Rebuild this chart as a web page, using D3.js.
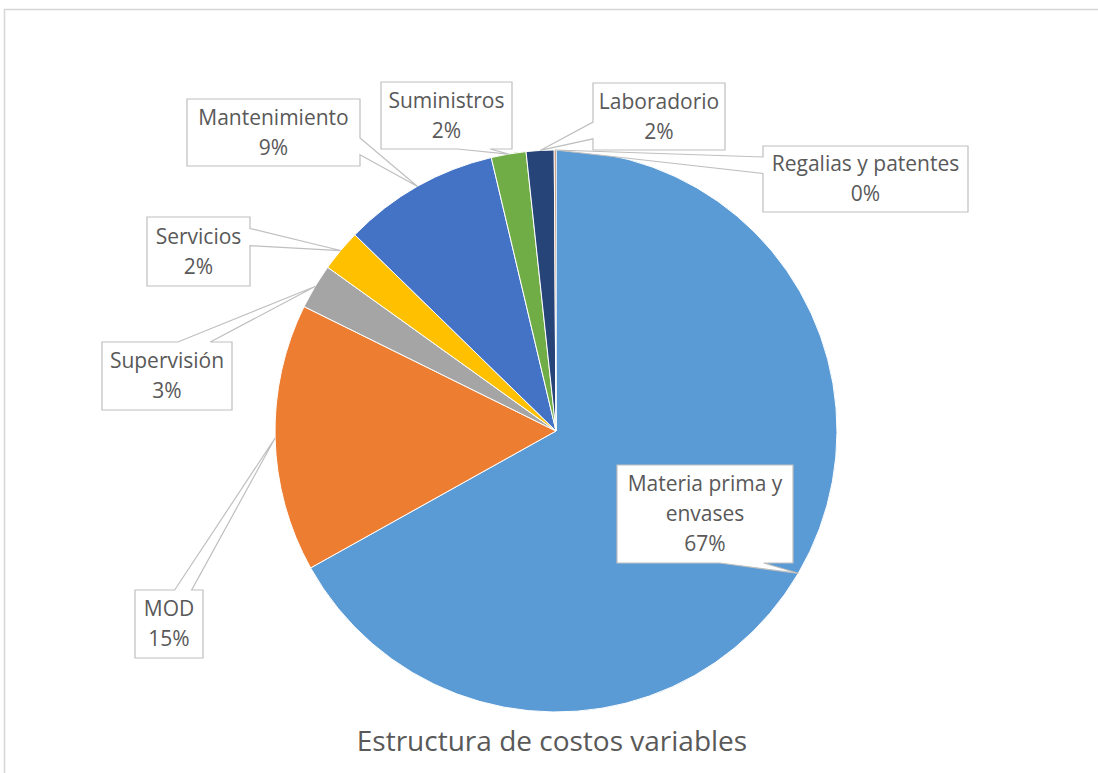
<!DOCTYPE html>
<html>
<head>
<meta charset="utf-8">
<script src="https://cdn.jsdelivr.net/npm/d3@7"></script>
<style>
  html, body { margin: 0; padding: 0; background: #fff; }
  svg { display: block; }
  text { font-family: "Open Sans", "Noto Sans", sans-serif; fill: #595959; }
</style>
</head>
<body>
<svg id="chart" width="1098" height="773"></svg>
<script>
// Variable cost structure (share of total, %)
const categories = [
  "Materia prima y envases",
  "MOD",
  "Supervisión",
  "Servicios",
  "Mantenimiento",
  "Suministros",
  "Laboradorio",
  "Regalias y patentes"
];
const values = [66.9, 15.4, 2.6, 2.4, 9.0, 2.0, 1.6, 0.1];
const colors = ["#5B9BD5", "#ED7D31", "#A5A5A5", "#FFC000", "#4472C4", "#70AD47", "#264478", "#9E480E"];
const title = "Estructura de costos variables";

// Callout boxes (x, y, width, height) for each category, same order
const calloutBoxes = [
  [617, 465, 176, 98],
  [135, 590, 68, 68],
  [102, 342, 130, 68],
  [147, 217, 103, 69],
  [187, 99, 173, 67],
  [381, 82, 131, 67],
  [593, 83, 132, 67],
  [763, 146, 205, 66]
];

const svg = d3.select("#chart");
const W = 1098, H = 773;
const cx = 556, cy = 431, R = 281;

// chart area frame
svg.append("rect")
  .attr("x", 4.5).attr("y", 9.5)
  .attr("width", W + 20).attr("height", H + 20)
  .attr("fill", "#fff")
  .attr("stroke", "#d6d6d6").attr("stroke-width", 1.5);

const total = d3.sum(values);
const rows = categories.map((c, i) => ({ name: c, value: values[i], color: colors[i], box: calloutBoxes[i] }));

const pie = d3.pie().sort(null).value(d => d.value).startAngle(0).endAngle(2 * Math.PI);
const arc = d3.arc().innerRadius(0).outerRadius(R);
const arcs = pie(rows);

const g = svg.append("g").attr("transform", `translate(${cx},${cy})`);
g.selectAll("path.slice")
  .data(arcs)
  .join("path")
  .attr("class", "slice")
  .attr("d", arc)
  .attr("fill", d => d.data.color)
  .attr("stroke", "#fff")
  .attr("stroke-width", 1);

const pct = v => Math.round(v * 100) + "%";

// Rectangle callout with a wedge pointing at (tx, ty)
function calloutPath(x, y, w, h, tx, ty) {
  const hc = x + w / 2, vc = y + h / 2;
  const dx = tx - hc, dy = ty - vc;
  const dq = dx * h / w;
  const vertical = Math.abs(dy) - Math.abs(dq) > 0;
  const x1 = x + w * (dx > 0 ? 7 : 2) / 12, x2 = x + w * (dx > 0 ? 10 : 5) / 12;
  const y1 = y + h * (dy > 0 ? 7 : 2) / 12, y2 = y + h * (dy > 0 ? 10 : 5) / 12;
  const p = d3.path();
  p.moveTo(x, y);
  if (vertical && dy < 0) { p.lineTo(x1, y); p.lineTo(tx, ty); p.lineTo(x2, y); }
  p.lineTo(x + w, y);
  if (!vertical && dx > 0) { p.lineTo(x + w, y1); p.lineTo(tx, ty); p.lineTo(x + w, y2); }
  p.lineTo(x + w, y + h);
  if (vertical && dy > 0) { p.lineTo(x2, y + h); p.lineTo(tx, ty); p.lineTo(x1, y + h); }
  p.lineTo(x, y + h);
  if (!vertical && dx < 0) { p.lineTo(x, y2); p.lineTo(tx, ty); p.lineTo(x, y1); }
  p.closePath();
  return p.toString();
}

const fontSize = 21, lineH = 30;
const labels = svg.append("g");

arcs.forEach(a => {
  const [bx, by, bw, bh] = a.data.box;
  const mid = (a.startAngle + a.endAngle) / 2;
  const tx = cx + R * Math.sin(mid);
  const ty = cy - R * Math.cos(mid);
  const lg = labels.append("g");
  lg.append("path")
    .attr("d", calloutPath(bx, by, bw, bh, tx, ty))
    .attr("fill", "#fff")
    .attr("stroke", "#bfbfbf")
    .attr("stroke-width", 1.2)
    .attr("stroke-linejoin", "miter");

  // wrap the category name inside the box width
  const measure = lg.append("text").attr("font-size", fontSize).attr("visibility", "hidden");
  const words = a.data.name.split(" ");
  const lines = [];
  let cur = "";
  words.forEach(wd => {
    const test = cur ? cur + " " + wd : wd;
    measure.text(test);
    if (cur && measure.node().getComputedTextLength() > bw - 8) { lines.push(cur); cur = wd; }
    else cur = test;
  });
  if (cur) lines.push(cur);
  measure.remove();
  lines.push(pct(a.data.value / total));

  const startY = by + bh / 2 - (lines.length - 1) * lineH / 2;
  lines.forEach((ln, i) => {
    lg.append("text")
      .attr("x", bx + bw / 2)
      .attr("y", startY + i * lineH)
      .attr("dy", "0.35em")
      .attr("text-anchor", "middle")
      .attr("font-size", fontSize)
      .text(ln);
  });
});

svg.append("text")
  .attr("x", 552).attr("y", 751)
  .attr("text-anchor", "middle")
  .attr("font-size", 28)
  .text(title);
</script>
</body>
</html>
